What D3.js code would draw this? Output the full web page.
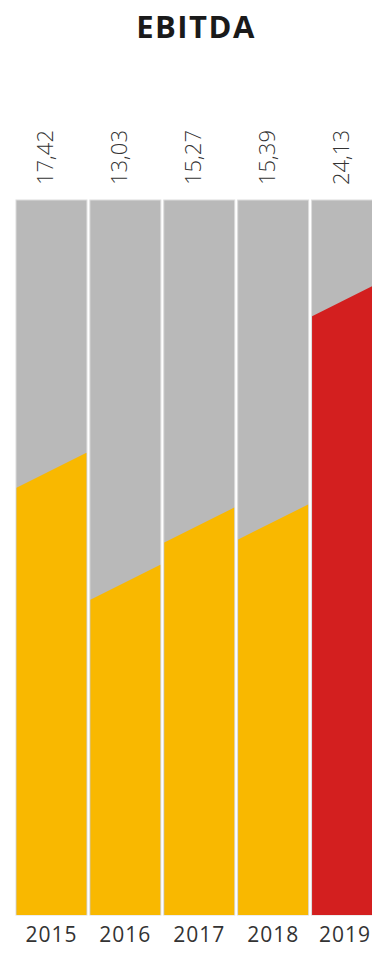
<!DOCTYPE html>
<html>
<head>
<meta charset="utf-8">
<script src="https://cdn.jsdelivr.net/npm/d3@7"></script>
<style>
  body { margin: 0; background: #fff; }
  svg { display: block; }
</style>
</head>
<body>
<script>
// data
var years = ["2015", "2016", "2017", "2018", "2019"];
var ebitda = [17.42, 13.03, 15.27, 15.39, 24.13];
var labels = ["17,42", "13,03", "15,27", "15,39", "24,13"];
var fills = ["#f9b800", "#f9b800", "#f9b800", "#f9b800", "#d31f1f"];

var width = 372, height = 954;
var plotTop = 200, plotBottom = 915;
var slant = 17.5;

var svg = d3.select("body").append("svg")
    .attr("width", width)
    .attr("height", height);

var x = d3.scaleBand().domain(years).range([16, 382.5]).paddingInner(0.04);
var y = d3.scaleLinear().domain([0, 28]).range([plotBottom, plotTop]);

svg.append("text")
    .attr("x", 196)
    .attr("y", 38)
    .attr("text-anchor", "middle")
    .attr("font-family", "Open Sans")
    .attr("font-weight", "bold")
    .attr("font-size", 31)
    .attr("letter-spacing", 1.5)
    .attr("fill", "#1a1a1a")
    .text("EBITDA");

var cols = svg.selectAll("g.col").data(years).enter()
    .append("g")
    .attr("class", "col");

// grey background column
cols.append("rect")
    .attr("x", d => x(d))
    .attr("y", y(28))
    .attr("width", x.bandwidth())
    .attr("height", y(0) - y(28))
    .attr("fill", "#b9b9b9")
    .attr("stroke", "#dcdcdc")
    .attr("stroke-width", 1);

// coloured fill with slanted top
cols.append("path")
    .attr("fill", (d, i) => fills[i])
    .attr("d", (d, i) => {
        var x0 = x(d) + 0.5, x1 = x(d) + x.bandwidth() - 0.5;
        var yv = y(ebitda[i]);
        return "M" + x0 + "," + y(0) + "L" + x0 + "," + (yv + slant) +
               "L" + x1 + "," + (yv - slant) + "L" + x1 + "," + y(0) + "Z";
    });

// value labels, rotated
cols.append("text")
    .attr("transform", d => "translate(" + (x(d) + x.bandwidth() / 2 + 2) + ",185) rotate(-90)")
    .attr("font-family", "Open Sans")
    .attr("font-weight", 300)
    .attr("font-size", 22)
    .attr("fill", "#333")
    .text((d, i) => labels[i]);

// year labels (last one kept inside the window)
cols.append("text")
    .attr("x", d => Math.min(x(d) + x.bandwidth() / 2, width - 27))
    .attr("y", 942)
    .attr("text-anchor", "middle")
    .attr("font-family", "Open Sans")
    .attr("font-size", 21)
    .attr("letter-spacing", 1)
    .attr("fill", "#333")
    .text(d => d);
</script>
</body>
</html>
